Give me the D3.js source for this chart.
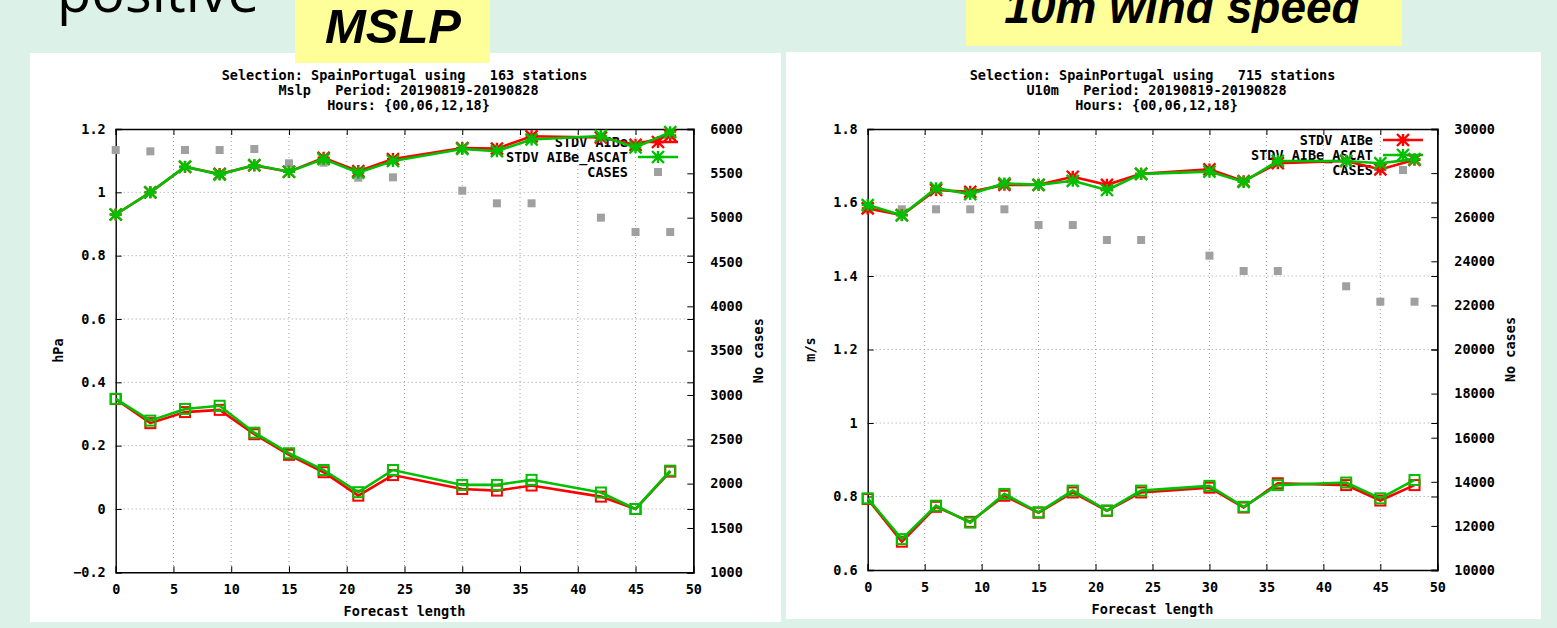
<!DOCTYPE html>
<html>
<head>
<meta charset="utf-8">
<script src="https://cdn.jsdelivr.net/npm/d3@7"></script>
<style>
    body { margin: 0; background: #dcf1e8; overflow: hidden; }
    text { white-space: pre; }
</style>
</head>
<body>
<script>
// forecast hours (same for both panels)
const hours = [0, 3, 6, 9, 12, 15, 18, 21, 24, 30, 33, 36, 42, 45, 48];

// MSLP panel
const mslpStdvAIBe  = [0.930, 1.000, 1.080, 1.058, 1.085, 1.065, 1.109, 1.067, 1.105, 1.140, 1.138, 1.177, 1.173, 1.150, 1.180];
const mslpStdvAscat = [0.930, 1.000, 1.081, 1.056, 1.086, 1.065, 1.105, 1.062, 1.099, 1.137, 1.130, 1.167, 1.178, 1.142, 1.190];
const mslpBiasAIBe  = [0.347, 0.271, 0.306, 0.313, 0.236, 0.171, 0.116, 0.042, 0.107, 0.063, 0.058, 0.074, 0.039, 0.000, 0.118];
const mslpBiasAscat = [0.348, 0.279, 0.316, 0.326, 0.241, 0.176, 0.123, 0.053, 0.123, 0.076, 0.076, 0.092, 0.052, 0.000, 0.121];
const mslpCases     = [5763, 5748, 5763, 5763, 5774, 5613, 5620, 5451, 5455, 5304, 5162, 5162, 5000, 4838, 4838];

// 10m wind panel
const windStdvAIBe  = [1.584, 1.566, 1.634, 1.629, 1.648, 1.648, 1.670, 1.648, 1.678, 1.690, 1.658, 1.707, 1.713, 1.690, 1.716];
const windStdvAscat = [1.593, 1.565, 1.639, 1.623, 1.652, 1.648, 1.659, 1.634, 1.678, 1.684, 1.656, 1.713, 1.713, 1.707, 1.718];
const windBiasAIBe  = [0.793, 0.677, 0.772, 0.731, 0.802, 0.756, 0.811, 0.761, 0.811, 0.824, 0.770, 0.836, 0.831, 0.789, 0.831];
const windBiasAscat = [0.795, 0.684, 0.775, 0.729, 0.807, 0.757, 0.816, 0.762, 0.816, 0.829, 0.772, 0.831, 0.838, 0.795, 0.845];
const windCases     = [26358, 26358, 26358, 26358, 26358, 25646, 25646, 24966, 24966, 24255, 23560, 23560, 22866, 22168, 22168];

const legendLabels = ['STDV AIBe', 'STDV AIBe_ASCAT', 'CASES'];
const xTicks = [0, 5, 10, 15, 20, 25, 30, 35, 40, 45, 50];

const RED = '#ff0000', GREEN = '#00c000', GREY = '#a0a0a0';
const MONO = '"DejaVu Sans Mono", "Liberation Mono", monospace';

const svg = d3.select('body').append('svg')
    .attr('width', 1557).attr('height', 628);

// slide decorations (cut at the top edge as on the slide)
svg.append('text').attr('x', 57).attr('y', 12)
    .attr('font-family', '"Open Sans", sans-serif').attr('font-size', 56)
    .text('positive');

function drawChart(p) {
    const g = svg.append('g');
    // white panel
    g.append('rect').attr('x', p.panel[0]).attr('y', p.panel[1])
        .attr('width', p.panel[2]).attr('height', p.panel[3]).attr('fill', '#fff');

    const x = d3.scaleLinear().domain([0, 50]).range([p.left, p.right]);
    const y = d3.scaleLinear().domain(p.yDomain).range([p.bottom, p.top]);
    const y2 = d3.scaleLinear().domain(p.y2Domain).range([p.bottom, p.top]);

    // grid
    const grid = g.append('g').attr('stroke', GREY).attr('stroke-dasharray', '1,3').attr('stroke-width', 1);
    grid.selectAll('.gx').data(xTicks.slice(1, -1)).join('line')
        .attr('x1', d => x(d)).attr('x2', d => x(d)).attr('y1', p.top).attr('y2', p.bottom);
    grid.selectAll('.gy').data(p.yTicks.slice(1, -1)).join('line')
        .attr('x1', p.left).attr('x2', p.right).attr('y1', d => y(d)).attr('y2', d => y(d));

    // axes (gnuplot style: ticks inward, mirrored)
    const tickFmt = d3.format(p.yFmt);
    const axBottom = d3.axisBottom(x).tickValues(xTicks).tickSize(-6).tickPadding(12).tickFormat(d3.format('d'));
    const axTop = d3.axisTop(x).tickValues(xTicks).tickSize(-6).tickFormat('');
    const axLeft = d3.axisLeft(y).tickValues(p.yTicks).tickSize(-6).tickPadding(10)
        .tickFormat(d => d === 0 ? '0' : (d === 1 ? '1' : tickFmt(d)));
    const axRightY1 = d3.axisRight(y).tickValues(p.yTicks).tickSize(-6).tickFormat('');
    const axRight = d3.axisRight(y2).tickValues(p.y2Ticks).tickSize(-6).tickPadding(17).tickFormat(d3.format('d'));

    const styleAxis = sel => {
        sel.selectAll('.domain').attr('stroke', '#000').attr('stroke-width', 1.4);
        sel.selectAll('.tick line').attr('stroke', '#000');
        sel.selectAll('text').attr('font-family', MONO).attr('font-weight', 'bold')
            .attr('font-size', 13.5).attr('fill', '#000');
    };
    g.append('g').attr('transform', `translate(0,${p.bottom})`).call(axBottom).call(styleAxis);
    g.append('g').attr('transform', `translate(0,${p.top})`).call(axTop).call(styleAxis);
    g.append('g').attr('transform', `translate(${p.left},0)`).call(axLeft).call(styleAxis);
    g.append('g').attr('transform', `translate(${p.right},0)`).call(axRightY1).call(styleAxis);
    g.append('g').attr('transform', `translate(${p.right},0)`).call(axRight).call(styleAxis)
        .selectAll('text').attr('text-anchor', 'start');

    const label = (txt, tx, ty, rot, anchor) => g.append('text')
        .attr('transform', `translate(${tx},${ty}) rotate(${rot || 0})`)
        .attr('text-anchor', anchor || 'middle').attr('dy', '0.35em')
        .attr('font-family', MONO).attr('font-weight', 'bold').attr('font-size', 13.5)
        .text(txt);

    // titles
    const cx = (p.left + p.right) / 2;
    p.title.forEach((t, i) => label(t, cx + (i ? 4 : 0), 75 + i * 15));
    label('Forecast length', cx, p.bottom + 39);
    label(p.yLabel, p.yLabelX, (p.top + p.bottom) / 2, -90);
    label('No cases', p.y2LabelX, (p.top + p.bottom) / 2, -90);

    // legend (drawn first, gnuplot draws the curves over it)
    const lg = g.append('g');
    legendLabels.forEach((t, i) => label(t, p.legend[0], p.legend[1] + i * 15, 0, 'end'));
    const lcx = (p.legend[0] + 10 + p.legend[0] + 50) / 2;
    [RED, GREEN].forEach((c, i) => {
        lg.append('line').attr('x1', p.legend[0] + 10).attr('x2', p.legend[0] + 50)
            .attr('y1', p.legend[1] + i * 15).attr('y2', p.legend[1] + i * 15)
            .attr('stroke', c).attr('stroke-width', 2.5);
        star(lg, lcx, p.legend[1] + i * 15, c);
    });
    lg.append('rect').attr('x', lcx - 4).attr('y', p.legend[1] + 30 - 4)
        .attr('width', 8).attr('height', 8).attr('fill', GREY);

    // cases
    g.append('g').selectAll('rect').data(hours).join('rect')
        .attr('x', (d, i) => x(d) - 4).attr('y', (d, i) => y2(p.cases[i]) - 4)
        .attr('width', 8).attr('height', 8).attr('fill', GREY);

    const line = d3.line().x((d, i) => x(hours[i])).y(d => y(d));
    const series = [
        [p.stdvRed, RED, 'star'], [p.stdvGreen, GREEN, 'star'],
        [p.biasRed, RED, 'square'], [p.biasGreen, GREEN, 'square']
    ];
    series.forEach(([vals, c, m]) => {
        g.append('path').datum(vals).attr('d', line)
            .attr('fill', 'none').attr('stroke', c).attr('stroke-width', 2.6);
        vals.forEach((v, i) => {
            if (m === 'star') star(g, x(hours[i]), y(v), c);
            else g.append('rect').attr('x', x(hours[i]) - 5).attr('y', y(v) - 5)
                .attr('width', 10).attr('height', 10).attr('fill', 'none')
                .attr('stroke', c).attr('stroke-width', 2);
        });
    });
}

function star(sel, cx, cy, c) {
    const r = 6;
    sel.append('path')
        .attr('d', `M${cx - r},${cy}H${cx + r}M${cx},${cy - r}V${cy + r}` +
            `M${cx - r},${cy - r}L${cx + r},${cy + r}M${cx - r},${cy + r}L${cx + r},${cy - r}`)
        .attr('stroke', c).attr('stroke-width', 2.4).attr('fill', 'none');
}

drawChart({
    panel: [30, 53, 751, 569],
    left: 115.7, right: 693.3, top: 129, bottom: 572.3,
    yDomain: [-0.2, 1.2], yTicks: [-0.2, 0, 0.2, 0.4, 0.6, 0.8, 1, 1.2], yFmt: '.1f',
    y2Domain: [1000, 6000], y2Ticks: d3.range(1000, 6001, 500),
    title: ['Selection: SpainPortugal using   163 stations', 'Mslp   Period: 20190819-20190828', 'Hours: {00,06,12,18}'],
    yLabel: 'hPa', yLabelX: 58, y2LabelX: 758,
    legend: [628, 142],
    stdvRed: mslpStdvAIBe, stdvGreen: mslpStdvAscat,
    biasRed: mslpBiasAIBe, biasGreen: mslpBiasAscat, cases: mslpCases
});

drawChart({
    panel: [786, 52, 755, 567],
    left: 867.7, right: 1437.3, top: 129, bottom: 570,
    yDomain: [0.6, 1.8], yTicks: [0.6, 0.8, 1, 1.2, 1.4, 1.6, 1.8], yFmt: '.1f',
    y2Domain: [10000, 30000], y2Ticks: d3.range(10000, 30001, 2000),
    title: ['Selection: SpainPortugal using   715 stations', 'U10m   Period: 20190819-20190828', 'Hours: {00,06,12,18}'],
    yLabel: 'm/s', yLabelX: 810, y2LabelX: 1510,
    legend: [1373, 140],
    stdvRed: windStdvAIBe, stdvGreen: windStdvAscat,
    biasRed: windBiasAIBe, biasGreen: windBiasAscat, cases: windCases
});

// yellow caption boxes
svg.append('rect').attr('x', 295).attr('y', -10).attr('width', 195).attr('height', 73).attr('fill', '#ffff99');
svg.append('text').attr('x', 393).attr('y', 43).attr('text-anchor', 'middle')
    .attr('font-family', '"Liberation Sans", Arial, sans-serif').attr('font-weight', 'bold')
    .attr('font-style', 'italic').attr('font-size', 49).text('MSLP');
svg.append('rect').attr('x', 966).attr('y', -10).attr('width', 436).attr('height', 56).attr('fill', '#ffff99');
svg.append('text').attr('x', 1182).attr('y', 23).attr('text-anchor', 'middle')
    .attr('font-family', '"Liberation Sans", Arial, sans-serif').attr('font-weight', 'bold')
    .attr('font-style', 'italic').attr('font-size', 46).text('10m wind speed');
</script>
</body>
</html>
